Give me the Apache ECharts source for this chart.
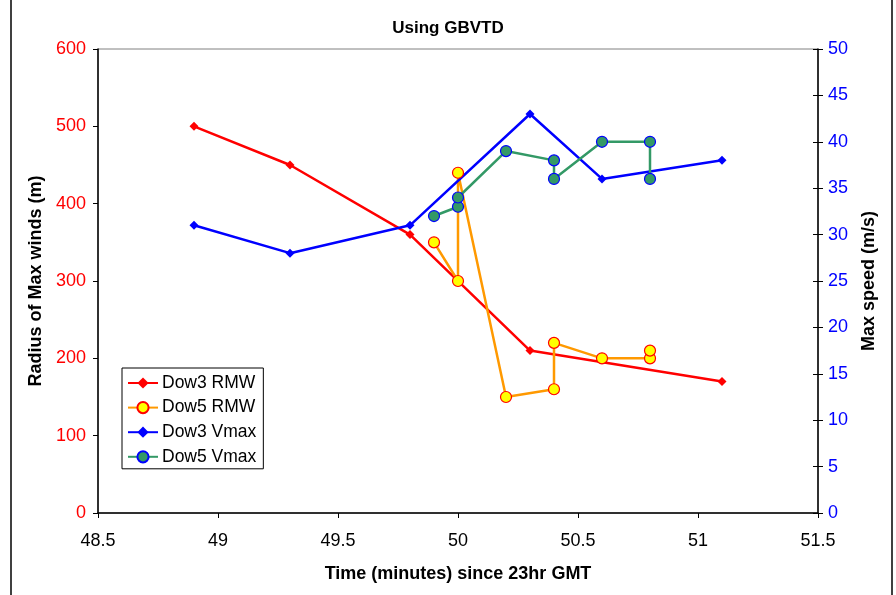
<!DOCTYPE html>
<html>
<head>
<meta charset="utf-8">
<script src="https://cdn.jsdelivr.net/npm/echarts@6/dist/echarts.min.js"></script>
<style>
html,body{margin:0;padding:0;background:#fff;}
#chart{width:896px;height:595px;}
</style>
</head>
<body>
<div id="chart"></div>
<script>
// Data (time in minutes since 23hr GMT)
var dow3RmwX = [48.9, 49.3, 49.8, 50.3, 51.1];
var dow3RmwY = [500, 450, 360, 210, 170];
var dow5RmwX = [49.9, 50.0, 50.0, 50.2, 50.4, 50.4, 50.6, 50.8, 50.8];
var dow5RmwY = [350, 300, 440, 150, 160, 220, 200, 200, 210];
var dow3VmaxX = [48.9, 49.3, 49.8, 50.3, 50.6, 51.1];
var dow3VmaxY = [31, 28, 31, 43, 36, 38];
var dow5VmaxX = [49.9, 50.0, 50.0, 50.2, 50.4, 50.4, 50.6, 50.8, 50.8];
var dow5VmaxY = [32, 33, 34, 39, 38, 36, 40, 40, 36];

function pairs(xs, ys) { return xs.map(function (x, i) { return [x, ys[i]]; }); }

var FONT = '"Liberation Sans", Arial, sans-serif';
var chart = echarts.init(document.getElementById('chart'), null, {renderer: 'canvas'});

var option = {
  animation: false,
  backgroundColor: '#ffffff',
  title: {
    text: 'Using GBVTD',
    left: 'center',
    top: 15,
    textStyle: {fontFamily: FONT, fontSize: 17, fontWeight: 'bold', color: '#000'}
  },
  grid: {
    left: 98, right: 78, top: 49, bottom: 82,
    show: true, borderColor: '#808080', borderWidth: 1, backgroundColor: '#fff'
  },
  legend: {
    orient: 'vertical',
    left: 122, top: 368,
    padding: [6, 7, 3, 5],
    itemWidth: 30, itemHeight: 14, itemGap: 6.6,
    borderColor: '#000', borderWidth: 1, backgroundColor: '#fff',
    textStyle: {fontFamily: FONT, fontSize: 17.5, color: '#000', lineHeight: 17, padding: [0, 0, 0, -1]},
    data: ['Dow3 RMW', 'Dow5 RMW', 'Dow3 Vmax', 'Dow5 Vmax']
  },
  xAxis: {
    type: 'value', min: 48.5, max: 51.5, interval: 0.5,
    name: 'Time (minutes) since 23hr GMT',
    nameLocation: 'middle', nameGap: 52,
    nameTextStyle: {fontFamily: FONT, fontSize: 18, fontWeight: 'bold', color: '#000'},
    axisLine: {onZero: false, lineStyle: {color: '#000', width: 1.5}},
    axisTick: {show: true, inside: false, length: 5, lineStyle: {color: '#000'}},
    axisLabel: {fontFamily: FONT, fontSize: 18, color: '#000', margin: 19},
    splitLine: {show: false}
  },
  yAxis: [
    {
      type: 'value', min: 0, max: 600, interval: 100, position: 'left',
      name: 'Radius of Max winds (m)',
      nameLocation: 'middle', nameGap: 52, nameRotate: 90,
      nameTextStyle: {fontFamily: FONT, fontSize: 18, fontWeight: 'bold', color: '#000'},
      axisLine: {show: true, onZero: false, lineStyle: {color: '#000', width: 1.5}},
      axisTick: {show: true, inside: false, length: 5, lineStyle: {color: '#000'}},
      axisLabel: {fontFamily: FONT, fontSize: 18, color: '#ff0000', margin: 12},
      splitLine: {show: false}
    },
    {
      type: 'value', min: 0, max: 50, interval: 5, position: 'right',
      name: 'Max speed (m/s)',
      nameLocation: 'middle', nameGap: 42, nameRotate: 90,
      nameTextStyle: {fontFamily: FONT, fontSize: 18, fontWeight: 'bold', color: '#000', verticalAlign: 'top'},
      axisLine: {show: true, onZero: false, lineStyle: {color: '#000', width: 1.5}},
      axisTick: {show: true, inside: false, length: 5, lineStyle: {color: '#000'}},
      axisLabel: {fontFamily: FONT, fontSize: 18, color: '#0000ff', margin: 10},
      splitLine: {show: false}
    },
    {
      type: 'value', min: 0, max: 50, interval: 5, position: 'right',
      axisLine: {show: false},
      axisTick: {show: true, inside: true, length: 5, lineStyle: {color: '#000'}},
      axisLabel: {show: false},
      splitLine: {show: false}
    }
  ],
  series: [
    {
      name: 'Dow3 RMW', type: 'line', yAxisIndex: 0,
      data: pairs(dow3RmwX, dow3RmwY),
      symbol: 'diamond', symbolSize: 9, showAllSymbol: true,
      lineStyle: {color: '#ff0000', width: 2.5},
      itemStyle: {color: '#ff0000', borderColor: '#ff0000', borderWidth: 0}
    },
    {
      name: 'Dow5 RMW', type: 'line', yAxisIndex: 0,
      data: pairs(dow5RmwX, dow5RmwY),
      symbol: 'circle', symbolSize: 11, showAllSymbol: true,
      lineStyle: {color: '#ff9900', width: 2.5},
      itemStyle: {color: '#ffff00', borderColor: '#ff0000', borderWidth: 1.2}
    },
    {
      name: 'Dow3 Vmax', type: 'line', yAxisIndex: 1,
      data: pairs(dow3VmaxX, dow3VmaxY),
      symbol: 'diamond', symbolSize: 9, showAllSymbol: true,
      lineStyle: {color: '#0000ff', width: 2.5},
      itemStyle: {color: '#0000ff', borderColor: '#0000ff', borderWidth: 0}
    },
    {
      name: 'Dow5 Vmax', type: 'line', yAxisIndex: 1,
      data: pairs(dow5VmaxX, dow5VmaxY),
      symbol: 'circle', symbolSize: 11, showAllSymbol: true,
      lineStyle: {color: '#339966', width: 2.5},
      itemStyle: {color: '#339966', borderColor: '#0000ff', borderWidth: 1.2}
    }
  ],
  graphic: [
    {type: 'line', shape: {x1: 11, y1: 0, x2: 11, y2: 595}, style: {stroke: '#000', lineWidth: 1.5}},
    {type: 'line', shape: {x1: 892, y1: 0, x2: 892, y2: 595}, style: {stroke: '#000', lineWidth: 1.5}}
  ]
};
chart.setOption(option);
</script>
</body>
</html>
